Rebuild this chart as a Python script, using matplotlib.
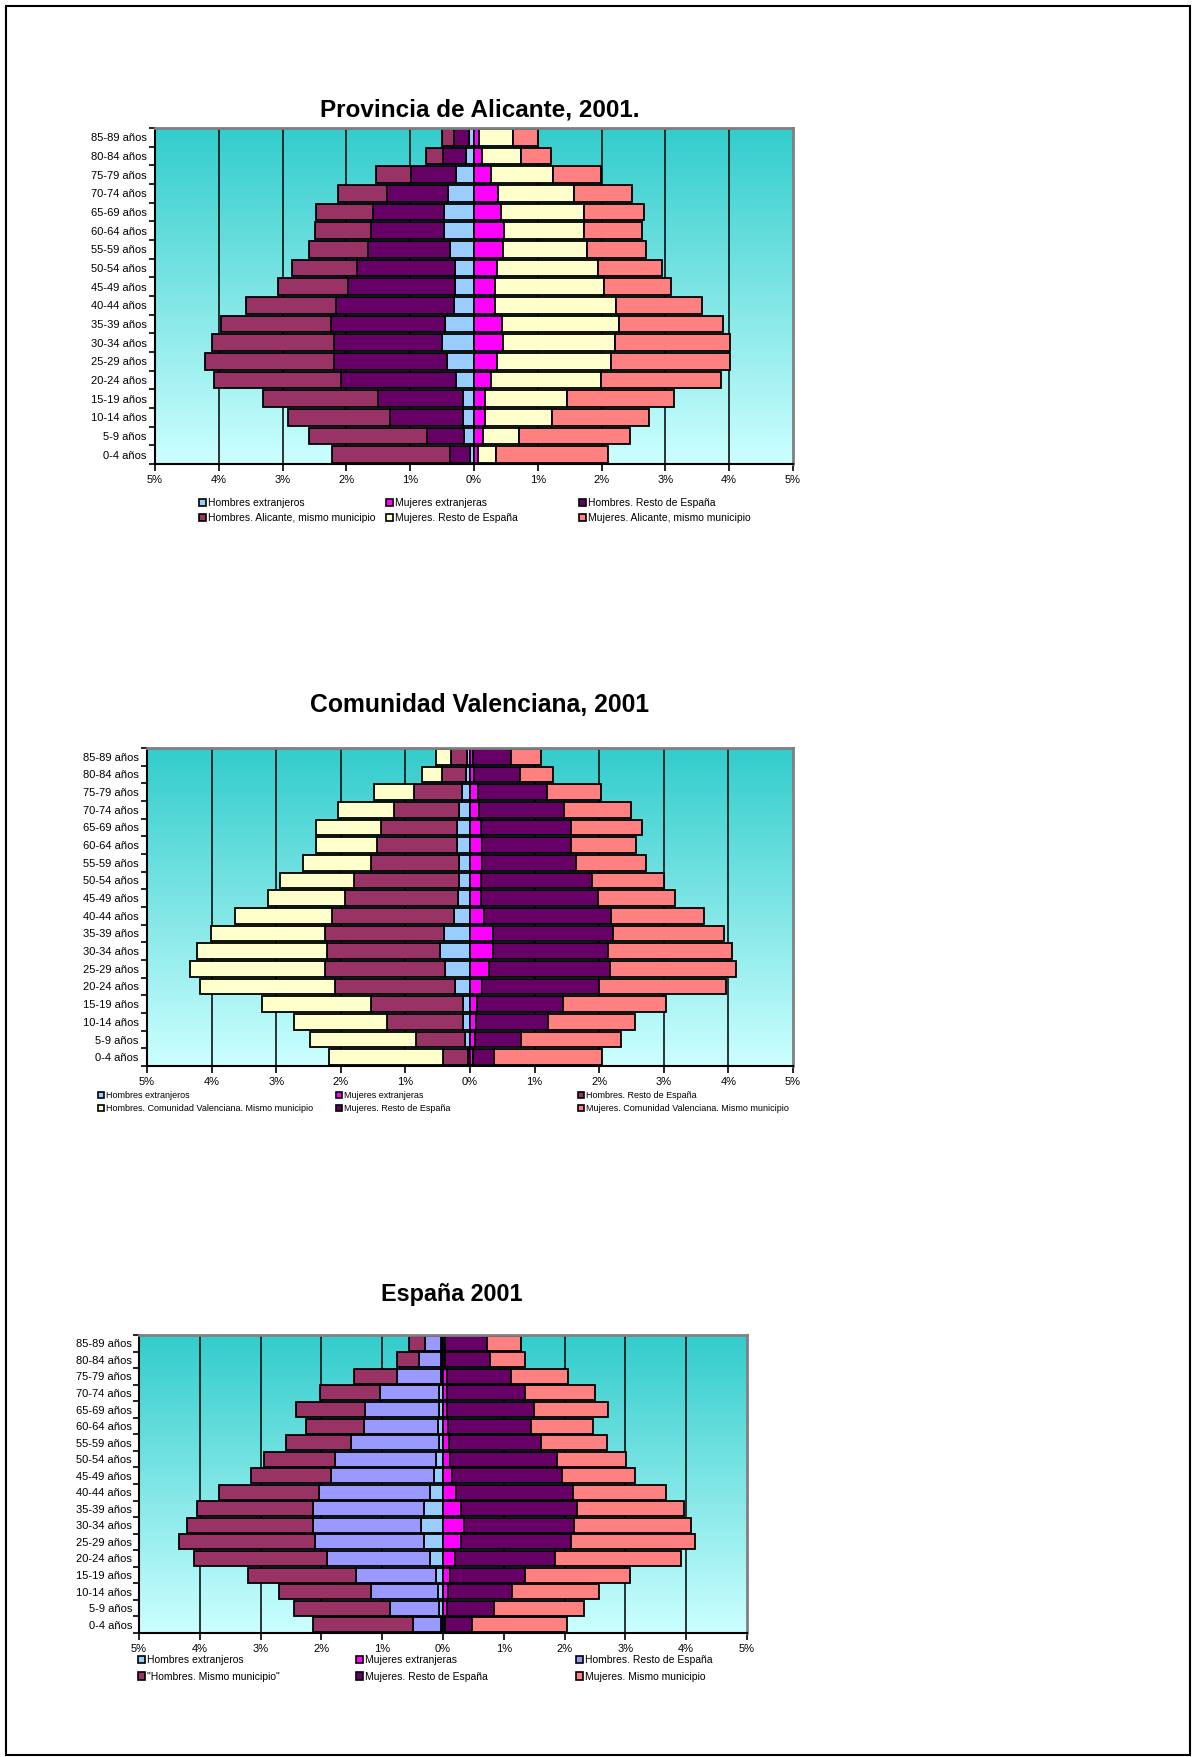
import numpy as np
import matplotlib
matplotlib.use('Agg')
import matplotlib.pyplot as plt
from matplotlib.patches import Patch, Rectangle
from matplotlib.colors import LinearSegmentedColormap

plt.rcParams['font.family'] = ['Liberation Sans', 'DejaVu Sans']

# Age groups, top to bottom as drawn
ages = ['85-89 años', '80-84 años', '75-79 años', '70-74 años', '65-69 años',
        '60-64 años', '55-59 años', '50-54 años', '45-49 años', '40-44 años',
        '35-39 años', '30-34 años', '25-29 años', '20-24 años', '15-19 años',
        '10-14 años', '5-9 años', '0-4 años']

# Provincia de Alicante (% of population)
ali_h_ext = [0.08, 0.13, 0.28, 0.40, 0.47, 0.47, 0.38, 0.30, 0.29, 0.32, 0.45, 0.50, 0.42, 0.28, 0.18, 0.18, 0.15, 0.07]
ali_h_resto = [0.24, 0.35, 0.71, 0.97, 1.11, 1.15, 1.28, 1.53, 1.69, 1.85, 1.79, 1.70, 1.78, 1.81, 1.33, 1.13, 0.59, 0.31]
ali_h_mun = [0.18, 0.27, 0.54, 0.76, 0.89, 0.87, 0.93, 1.02, 1.09, 1.40, 1.72, 1.90, 2.01, 1.99, 1.80, 1.60, 1.85, 1.85]
ali_m_ext = [0.08, 0.12, 0.26, 0.37, 0.42, 0.47, 0.45, 0.36, 0.33, 0.33, 0.44, 0.45, 0.36, 0.26, 0.18, 0.17, 0.14, 0.07]
ali_m_resto = [0.53, 0.62, 0.98, 1.20, 1.30, 1.26, 1.32, 1.59, 1.71, 1.90, 1.84, 1.76, 1.79, 1.73, 1.27, 1.06, 0.56, 0.28]
ali_m_mun = [0.40, 0.47, 0.75, 0.91, 0.95, 0.91, 0.93, 0.99, 1.05, 1.35, 1.63, 1.81, 1.86, 1.88, 1.69, 1.51, 1.75, 1.75]

# Comunidad Valenciana
cv_h_ext = [0.04, 0.06, 0.12, 0.17, 0.20, 0.20, 0.17, 0.17, 0.18, 0.24, 0.40, 0.46, 0.38, 0.23, 0.11, 0.11, 0.07, 0.03]
cv_h_resto = [0.26, 0.37, 0.74, 1.01, 1.17, 1.24, 1.37, 1.62, 1.75, 1.89, 1.84, 1.76, 1.87, 1.86, 1.43, 1.17, 0.76, 0.39]
cv_h_mun = [0.22, 0.31, 0.63, 0.86, 1.02, 0.95, 1.05, 1.15, 1.19, 1.51, 1.77, 2.00, 2.09, 2.09, 1.68, 1.44, 1.65, 1.76]
cv_m_ext = [0.04, 0.06, 0.12, 0.14, 0.17, 0.19, 0.19, 0.17, 0.17, 0.22, 0.35, 0.36, 0.30, 0.19, 0.11, 0.09, 0.07, 0.04]
cv_m_resto = [0.59, 0.71, 1.07, 1.32, 1.39, 1.37, 1.45, 1.72, 1.81, 1.96, 1.86, 1.78, 1.86, 1.81, 1.33, 1.11, 0.72, 0.33]
cv_m_mun = [0.47, 0.52, 0.84, 1.03, 1.11, 1.01, 1.08, 1.12, 1.19, 1.45, 1.72, 1.91, 1.96, 1.96, 1.60, 1.35, 1.55, 1.68]

# España
es_h_ext = [0.04, 0.04, 0.04, 0.06, 0.06, 0.09, 0.07, 0.11, 0.14, 0.22, 0.31, 0.37, 0.32, 0.21, 0.12, 0.09, 0.07, 0.04]
es_h_resto = [0.25, 0.36, 0.72, 0.98, 1.23, 1.21, 1.45, 1.66, 1.71, 1.82, 1.82, 1.76, 1.79, 1.70, 1.31, 1.09, 0.80, 0.45]
es_h_mun = [0.27, 0.36, 0.70, 0.98, 1.12, 0.95, 1.07, 1.18, 1.30, 1.64, 1.91, 2.08, 2.23, 2.19, 1.78, 1.52, 1.58, 1.65]
es_m_ext = [0.04, 0.04, 0.06, 0.07, 0.07, 0.09, 0.10, 0.12, 0.15, 0.21, 0.30, 0.34, 0.30, 0.20, 0.11, 0.09, 0.07, 0.04]
es_m_resto = [0.69, 0.73, 1.06, 1.28, 1.43, 1.35, 1.52, 1.75, 1.80, 1.93, 1.90, 1.81, 1.80, 1.65, 1.24, 1.04, 0.77, 0.43]
es_m_mun = [0.56, 0.58, 0.93, 1.15, 1.22, 1.02, 1.08, 1.14, 1.20, 1.52, 1.77, 1.93, 2.05, 2.06, 1.72, 1.44, 1.48, 1.57]

LBLUE = '#99CCFF'
MAGENTA = '#FF00FF'
DPURPLE = '#660066'
MAROON = '#993366'
LYELLOW = '#FFFFCC'
SALMON = '#FF8080'
PERI = '#9999FF'

W, H = 1192, 1757
fig = plt.figure(figsize=(W / 100, H / 100), dpi=100)

bg_cmap = LinearSegmentedColormap.from_list('bg', ['#CCFFFF', '#33CCCC'])


def make_axes(l, r, t, b):
    return fig.add_axes([l / W, 1 - b / H, (r - l) / W, (b - t) / H])


def pyramid(ax, left, right, lcols, rcols, ylab_pad):
    n = len(ages)
    y = np.arange(n)
    grad = np.linspace(0, 1, 256).reshape(-1, 1)
    ax.imshow(grad, cmap=bg_cmap, aspect='auto', extent=[0, 1, 0, 1],
              transform=ax.transAxes, origin='lower', zorder=0)
    for g in range(-4, 5):
        ax.axvline(g, color='black', lw=1.1, zorder=1)
    h = 0.9
    acc = np.zeros(n)
    for vals, c in zip(left, lcols):
        v = np.array(vals)
        ax.barh(y, -v, left=-acc, height=h, color=c, edgecolor='black', lw=1.3, zorder=2)
        acc += v
    acc = np.zeros(n)
    for vals, c in zip(right, rcols):
        v = np.array(vals)
        ax.barh(y, v, left=acc, height=h, color=c, edgecolor='black', lw=1.3, zorder=2)
        acc += v
    ax.set_xlim(-5, 5)
    ax.set_ylim(n - 0.5, -0.5)
    ax.set_xticks(range(-5, 6))
    ax.set_xticklabels([f'{abs(v)}%' for v in range(-5, 6)], fontsize=8)
    ax.set_yticks(y)
    ax.set_yticklabels(ages, fontsize=8)
    ax.set_yticks(np.arange(-0.5, n, 1), minor=True)
    ax.tick_params(axis='y', which='major', length=0, pad=ylab_pad)
    ax.tick_params(axis='y', which='minor', length=4, direction='out', width=1.2)
    ax.tick_params(axis='x', length=5, direction='out', width=1.2, pad=3)
    for s in ['top', 'right']:
        ax.spines[s].set_color('#808080')
        ax.spines[s].set_linewidth(2)
    for s in ['left', 'bottom']:
        ax.spines[s].set_color('black')
        ax.spines[s].set_linewidth(1.5)


def legend_cols(cols, xs, ytop, fs, ls):
    for (items, x) in zip(cols, xs):
        handles = [Patch(facecolor=c, edgecolor='black', lw=1.2, label=t) for t, c in items]
        fig.legend(handles=handles, loc='upper left', bbox_to_anchor=(x / W, 1 - ytop / H),
                   frameon=False, fontsize=fs, handlelength=0.7, handleheight=0.7,
                   handletextpad=0.2, labelspacing=ls, borderpad=0, borderaxespad=0)


# --- Provincia de Alicante ---
ax1 = make_axes(155, 793, 128, 464)
pyramid(ax1, [ali_h_ext, ali_h_resto, ali_h_mun], [ali_m_ext, ali_m_resto, ali_m_mun],
        [LBLUE, DPURPLE, MAROON], [MAGENTA, LYELLOW, SALMON], 6)
fig.text(480 / W, 1 - 110 / H, 'Provincia de Alicante, 2001.', ha='center', va='center',
         fontsize=17.5, fontweight='bold')
legend_cols([[('Hombres extranjeros', LBLUE), ('Hombres. Alicante, mismo municipio', MAROON)],
             [('Mujeres extranjeras', MAGENTA), ('Mujeres. Resto de España', LYELLOW)],
             [('Hombres. Resto de España', DPURPLE), ('Mujeres. Alicante, mismo municipio', SALMON)]],
            [199, 386, 579], 498, 7.5, 0.5)

# --- Comunidad Valenciana ---
ax2 = make_axes(147, 793, 748, 1066)
pyramid(ax2, [cv_h_ext, cv_h_resto, cv_h_mun], [cv_m_ext, cv_m_resto, cv_m_mun],
        [LBLUE, MAROON, LYELLOW], [MAGENTA, DPURPLE, SALMON], 6)
fig.text(480 / W, 1 - 705 / H, 'Comunidad Valenciana, 2001', ha='center', va='center',
         fontsize=17.8, fontweight='bold')
legend_cols([[('Hombres extranjeros', LBLUE), ('Hombres. Comunidad Valenciana. Mismo municipio', LYELLOW)],
             [('Mujeres extranjeras', MAGENTA), ('Mujeres. Resto de España', DPURPLE)],
             [('Hombres. Resto de España', MAROON), ('Mujeres. Comunidad Valenciana. Mismo municipio', SALMON)]],
            [98, 336, 578], 1091, 6.5, 0.45)

# --- España ---
ax3 = make_axes(139, 747, 1335, 1633)
pyramid(ax3, [es_h_ext, es_h_resto, es_h_mun], [es_m_ext, es_m_resto, es_m_mun],
        [LBLUE, PERI, MAROON], [MAGENTA, DPURPLE, SALMON], 5)
fig.text(452 / W, 1 - 1294 / H, 'España 2001', ha='center', va='center',
         fontsize=16.8, fontweight='bold')
legend_cols([[('Hombres extranjeros', LBLUE), ('"Hombres. Mismo municipio"', MAROON)],
             [('Mujeres extranjeras', MAGENTA), ('Mujeres. Resto de España', DPURPLE)],
             [('Hombres. Resto de España', PERI), ('Mujeres. Mismo municipio', SALMON)]],
            [138, 356, 576], 1655, 7.5, 0.65)

# page frame
fig.patches.append(Rectangle((6 / W, 2 / H), 1 - 8 / W, 1 - 8 / H, transform=fig.transFigure,
                             fill=False, edgecolor='black', lw=1.5))

fig.savefig('out.png', dpi=100)
